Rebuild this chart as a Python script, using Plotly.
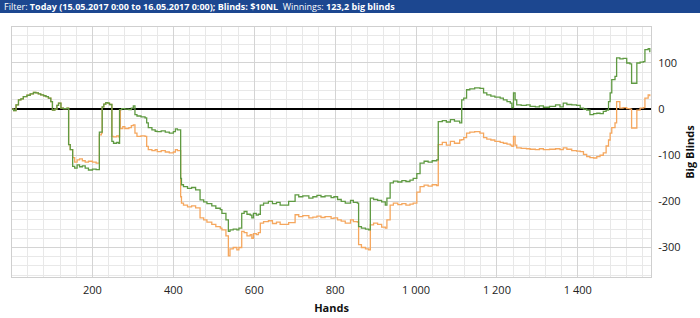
import plotly.graph_objects as go

# ---- data ----
hands_won = [1,5,11,17,23,29,38,46,54,60,66,72,79,85,91,97,101,107,112,116,122,128,137,
             141,145,151,156,162,168,175,182,190,200,209,217,224,228,233,238,242,248,252,260,265,
             267,272,280,290,296,301,305,310,320,330,334,338,347,355,360,370,380,390,400,405,410,
             418,420,425,435,445,455,466,475,483,495,505,516,520,530,536,540,548,557,562,569,575,
             582,590,594,598,605,610,615,623,635,645,655,664,685,701,710,720,735,745,755,765,775,
             790,797,806,815,825,838,845,855,858,865,875,883,887,895,905,915,924,928,936,944,955,
             965,975,985,993,1002,1010,1020,1030,1040,1051,1055,1065,1075,1085,1095,1108,1113,1118,
             1125,1133,1145,1158,1167,1175,1185,1195,1208,1216,1225,1233,1237,1241,1245,1249,1260,
             1273,1282,1295,1305,1315,1330,1345,1356,1364,1373,1385,1397,1406,1414,1422,1430,1439,
             1447,1455,1463,1470,1476,1480,1484,1492,1496,1504,1512,1521,1529,1533,1541,1546,1554,
             1562,1566,1574,1578]
won_bb = [0,-3,9,20,22,27,30,33,36,35,33,31,29,27,24,16,-2,0,8,13,2,1,2,
          -77,-88,-124,-128,-121,-125,-123,-128,-132,-130,-131,-50,5,11,14,13,10,-70,-74,-72,-74,
          -1,1,0,-1,2,7,-12,-15,-17,-19,-30,-40,-45,-48,-49,-47,-50,-52,-49,-43,-45,
          -150,-164,-168,-172,-170,-175,-197,-201,-205,-210,-215,-218,-226,-240,-265,-262,-260,-262,-258,-226,-222,
          -228,-230,-236,-226,-230,-228,-208,-204,-200,-205,-202,-208,-200,-186,-190,-188,-193,-190,-187,-190,-188,
          -192,-190,-196,-200,-204,-198,-202,-204,-255,-258,-260,-262,-193,-196,-198,-201,-208,-193,-160,-156,-158,
          -155,-157,-154,-150,-140,-117,-113,-115,-112,-110,-27,-25,-28,-23,-26,-30,20,24,
          42,44,46,45,35,31,28,26,24,20,16,13,3,35,20,9,8,
          9,6,5,7,4,6,9,5,13,10,9,8,2,0,-2,-12,-10,
          -9,-10,-5,-2,16,35,64,71,111,109,110,100,98,56,56,100,102,
          103,129,131,123]

hands_ev = [1,5,11,17,23,29,38,46,54,60,66,72,79,85,91,97,101,107,112,116,122,128,137,
            141,145,151,156,162,168,175,182,190,200,209,217,222,224,228,233,238,242,248,252,260,265,
            267,269,275,280,290,296,301,305,310,320,330,334,338,347,355,360,370,380,390,400,405,410,
            418,420,425,435,445,455,466,475,483,495,505,516,520,530,536,540,548,557,562,569,575,
            582,590,594,598,605,610,615,623,635,645,655,664,685,701,710,720,735,745,755,765,775,
            790,797,806,815,825,838,845,855,858,865,875,883,887,895,905,915,924,928,936,944,955,
            965,975,985,993,1002,1010,1020,1030,1040,1051,1055,1065,1075,1085,1095,1108,1113,1118,
            1125,1133,1145,1158,1167,1175,1185,1195,1208,1216,1225,1233,1237,1241,1245,1249,1260,
            1273,1282,1295,1305,1315,1330,1345,1356,1364,1373,1385,1397,1406,1414,1422,1430,1439,
            1447,1455,1463,1470,1476,1480,1484,1492,1496,1504,1512,1521,1529,1533,1541,1546,1554,
            1562,1566,1574,1578]
ev_bb = [0,-3,9,20,22,27,30,33,36,35,33,31,29,27,24,16,-2,0,8,13,2,1,2,
         -77,-88,-105,-115,-110,-108,-112,-115,-113,-115,-117,-56,-52,5,11,14,13,10,-59,-60,-58,-60,
         -1,-42,-38,-42,-40,-36,-34,-52,-59,-58,-59,-81,-88,-90,-88,-92,-90,-93,-95,-93,-88,-90,
         -190,-204,-208,-212,-210,-214,-236,-240,-245,-250,-255,-258,-262,-275,-318,-303,-300,-305,-300,-265,-268,
         -275,-272,-280,-270,-272,-268,-247,-244,-242,-248,-245,-250,-246,-229,-233,-231,-236,-234,-232,-235,-233,
         -237,-236,-240,-243,-247,-240,-244,-245,-294,-300,-303,-305,-251,-247,-250,-256,-258,-240,-208,-204,-207,
         -205,-208,-206,-204,-180,-168,-165,-167,-164,-166,-77,-72,-78,-70,-74,-67,-66,-62,
         -52,-50,-49,-52,-62,-65,-67,-70,-72,-74,-76,-78,-81,-59,-78,-84,-85,
         -86,-87,-88,-86,-88,-87,-86,-88,-84,-87,-90,-91,-92,-98,-103,-105,-106,
         -103,-100,-95,-80,-67,-52,-40,-30,16,2,3,1,0,-41,-41,-2,2,
         3,24,31,28]

x_tickvals = [200, 400, 600, 800, 1000, 1200, 1400]
x_ticktext = ["200", "400", "600", "800", "1 000", "1 200", "1 400"]
y_tickvals = [100, 0, -100, -200, -300]
y_ticktext = ["100", "0", "-100", "-200", "-300"]

FONT = "Open Sans, Noto Sans, sans-serif"

fig = go.Figure()
fig.add_trace(go.Scatter(x=hands_ev, y=ev_bb, mode="lines", line_shape="hv",
                         line=dict(color="#f5a75e", width=1.3), name="All-in EV",
                         hoverinfo="skip"))
fig.add_trace(go.Scatter(x=hands_won, y=won_bb, mode="lines", line_shape="hv",
                         line=dict(color="#5f9a42", width=1.3), name="Net won",
                         hoverinfo="skip"))

fig.update_layout(
    width=700, height=318,
    margin=dict(l=12, r=49, t=27, b=41),
    paper_bgcolor="white", plot_bgcolor="white",
    showlegend=False,
    font=dict(family=FONT, size=11, color="#222"),
    xaxis=dict(range=[1, 1581], tickvals=x_tickvals, ticktext=x_ticktext, automargin=False,
               showgrid=True, gridcolor="#d4d4d4", gridwidth=1,
               minor=dict(dtick=40, tick0=0, showgrid=True, gridcolor="#e8e8e8", gridwidth=1),
               zeroline=False, showline=True, linecolor="#cfcfcf", mirror=True,
               ticks="", ticklabelstandoff=3, tickfont=dict(size=11, color="#222"),
               title=dict(text="<b>Hands</b>", font=dict(size=11, color="#111"), standoff=8)),
    yaxis=dict(range=[-364, 178], side="right", tickvals=y_tickvals, ticktext=y_ticktext, automargin=False,
               showgrid=True, gridcolor="#d4d4d4", gridwidth=1,
               minor=dict(dtick=20, tick0=0, showgrid=True, gridcolor="#e8e8e8", gridwidth=1),
               zeroline=True, zerolinecolor="#000000", zerolinewidth=2,
               showline=True, linecolor="#cfcfcf", mirror=True,
               ticks="", ticklabelstandoff=4, tickfont=dict(size=11, color="#222"),
               title=dict(text="<b>Big Blinds</b>", font=dict(size=11, color="#111"), standoff=6)),
)

# header bar
fig.add_shape(type="rect", xref="paper", yref="paper",
              x0=-12/639, x1=1 + 49/639, y0=1 + 14/250, y1=1 + 27/250,
              fillcolor="#1c4790", line=dict(width=0), layer="above")
fig.add_annotation(xref="paper", yref="paper", x=-10/639, y=1 + 20.5/250,
                   xanchor="left", yanchor="middle", showarrow=False,
                   text="Filter: <b>Today (15.05.2017 0:00 to 16.05.2017 0:00); Blinds: $10NL</b>  Winnings: <b>123,2 big blinds</b>",
                   font=dict(family=FONT, size=9, color="white"))

fig.write_html("out.html")
